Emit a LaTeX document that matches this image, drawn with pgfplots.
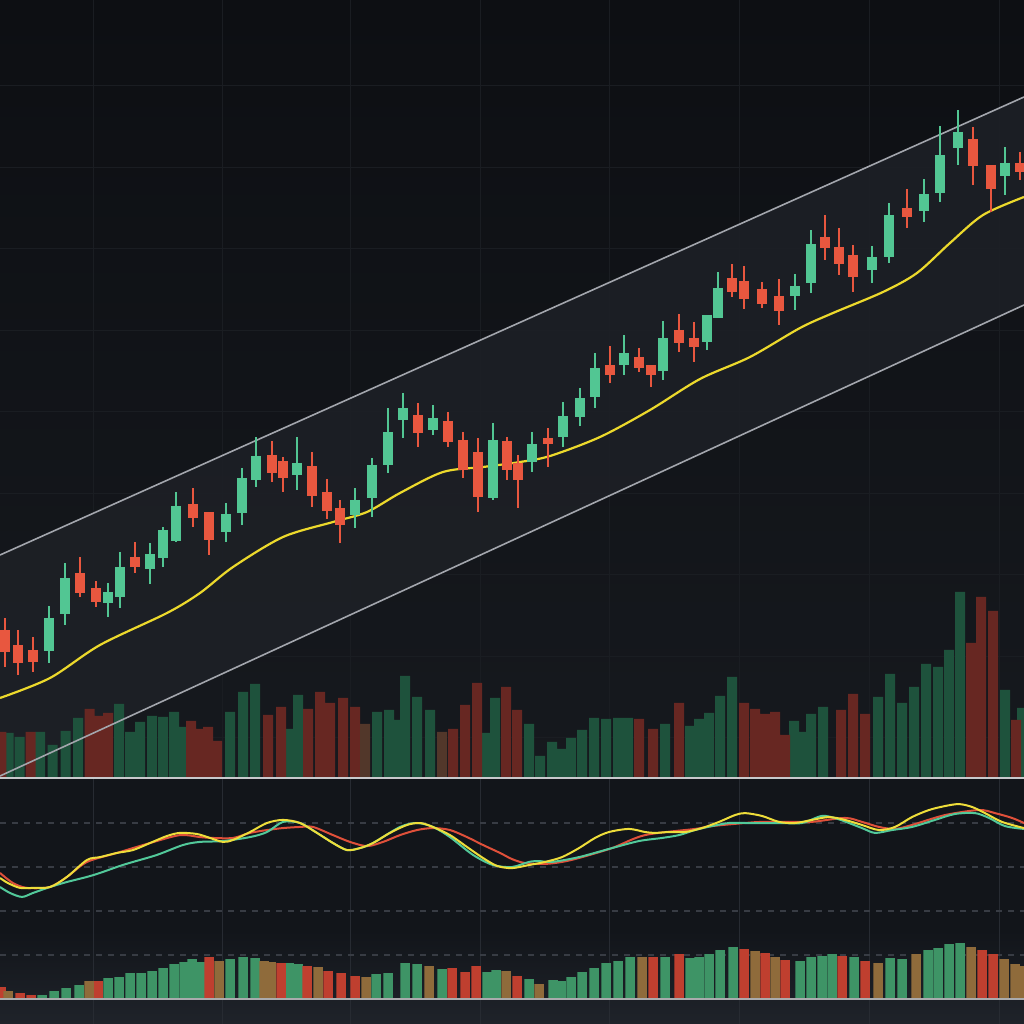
\documentclass[border=0pt]{standalone}
\usepackage{pgfplots}
\usepackage{pgfplotstable}
\pgfplotsset{compat=1.18}
\definecolor{bgtop}{HTML}{0D0F13}
\definecolor{bgmid}{HTML}{16191E}
\definecolor{lowbg}{HTML}{12151A}
\definecolor{botbg}{HTML}{1F232A}
\definecolor{chanfill}{HTML}{1D2026}
\definecolor{gridc}{HTML}{1A1D22}
\definecolor{gridlow}{HTML}{272B32}
\definecolor{chanline}{HTML}{A3A6AD}
\definecolor{mac}{HTML}{ECD92C}
\definecolor{cgreen}{HTML}{52C693}
\definecolor{cred}{HTML}{E8573F}
\definecolor{vgreen}{HTML}{1E523C}
\definecolor{vred}{HTML}{672722}
\definecolor{vbrown}{HTML}{52372A}
\definecolor{hgreen}{HTML}{3E9466}
\definecolor{hred}{HTML}{BF3F2F}
\definecolor{hbrown}{HTML}{8F6B3B}
\definecolor{oyellow}{HTML}{EEDD3A}
\definecolor{ogreen}{HTML}{52C99A}
\definecolor{ored}{HTML}{E0503A}
\definecolor{dashc}{HTML}{383C44}
\definecolor{sepc}{HTML}{C8C9CC}

% candles: x, body top, body bottom, high, low
\pgfplotstableread{
x t b h l
49 382 349 394 337
65 422 386 437 375
108 408 397 417 383
120 433 403 448 392
150 446 431 457 416
163 470 442 473 433
176 494 459 508 458
226 486 468 497 458
242 522 487 532 475
256 544 520 563 513
297 537 525 563 510
355 500 485 512 472
372 535 502 542 483
388 568 535 592 527
403 592 580 607 562
433 582 570 595 565
493 560 502 577 500
532 556 538 568 528
563 584 563 598 553
580 602 583 612 574
595 632 603 647 592
624 647 635 665 625
663 662 629 679 620
707 685 658 685 650
718 712 682 728 682
795 714 704 726 690
811 756 717 770 707
872 743 730 754 717
889 785 743 797 737
924 806 789 821 778
940 845 807 874 798
958 868 852 890 835
1005 837 824 853 805
}\greencandles
\pgfplotstableread{
x t b h l
5 370 348 382 333
18 355 337 370 325
33 350 338 363 328
80 427 407 443 403
96 412 398 419 393
135 443 433 458 427
193 496 482 512 473
209 488 460 488 445
272 545 527 559 518
283 539 522 543 508
312 534 504 548 493
327 508 489 521 481
340 492 475 500 457
418 585 567 597 553
448 579 558 588 553
463 560 530 568 522
478 548 503 562 488
507 559 530 563 520
518 537 520 545 492
548 562 556 572 533
610 635 625 654 617
639 643 632 652 628
651 635 625 635 613
679 670 657 686 648
694 662 653 678 638
732 722 708 736 703
744 719 701 734 691
762 711 696 718 692
779 704 689 721 675
825 763 752 785 740
839 753 736 772 725
853 745 723 755 708
907 792 783 811 772
973 861 834 873 815
991 835 811 835 788
1020 837 828 848 820
}\redcandles

\pgfplotstableread{
x v
8.5 45
19.5 41
40 46
52.5 33
65.5 47
78 60
119 74
130 46
140 56
152 62
163 61
174 66
184 51
230 66
243 86
255 94
290 49
298 83
377 66
389 68
396 58
405 102
417 81
430 68
486 45
495 80
529 54
540 22
552 36
561 29
571 40
582 48
594 60
606 59
618 60
628 60
665 54
690 52
699 59
709 65
720 82
732 101
794 57
801 46
811 64
823 71
878 81
890 104
902 75
914 91
926 114
938 111
949 128
960 186
1005 88
1022 70
}\volgreen
\pgfplotstableread{
x v
1.5 46
30.5 46
89.5 69
98 62
108 65
191 57
200 49
208 51
217 37
268 63
281 71
308 69
320 86
330 75
343 80
355 71
453 49
465 73
477 95
506 91
517 68
639 59
653 49
679 75
744 75
755 69
765 64
775 66
785 43
841 68
853 84
865 64
971 135
981 181
993 167
1016 58
}\volred
\pgfplotstableread{
x v
365 54
442 46
}\volbrown

\pgfplotstableread{
x v
42 4
54 8
66 11
79 14
108 21
119 22
130 26
141 26
152 28
163 31
174 35
184 37
192 40
200 37
230 40
243 42
255 41
289 36
298 35
376 25
388 26
405 36
417 35
442 30
487 27
496 29
529 20
553 19
561 18
571 22
582 27
594 31
606 36
618 38
630 42
665 42
690 41
699 42
709 45
720 49
733 52
800 38
811 42
822 43
832 45
854 42
890 41
902 40
928 49
938 51
949 55
960 56
}\histgreen
\pgfplotstableread{
x v
1 12
20 6
31 4
98 18
209 42
281 36
307 33
328 28
341 26
355 23
452 31
465 27
476 33
517 23
653 42
679 45
744 50
765 46
785 39
842 43
865 38
982 49
993 45
}\histred
\pgfplotstableread{
x v
8 8
89 18
219 38
264 38
271 37
318 32
366 22
429 33
506 28
539 15
642 42
755 48
775 42
878 36
916 45
971 52
1004 40
1015 35
1023 33
}\histbrown

\pgfplotsset{
  base/.style={scale only axis, width=512pt, xmin=0, xmax=1024,
    axis line style={draw=none}, tick style={draw=none},
    xtick=\empty, ytick=\empty, xticklabels={}, yticklabels={},
    major tick length=0pt, anchor=south west},
  body/.style={only marks, mark=*, mark size=0pt, mark options={draw=none, fill=none},
    error bars/.cd, y dir=minus, y explicit,
    error mark=none, error bar style={draw=#1, line width=5pt}},
  wick/.style={only marks, mark=*, mark size=0pt, mark options={draw=none, fill=none},
    error bars/.cd, y dir=minus, y explicit,
    error mark=none, error bar style={draw=#1, line width=0.9pt}},
}

\begin{document}
\begin{tikzpicture}
\shade[top color=bgtop, bottom color=bgmid] (0pt,123pt) rectangle (512pt,512pt);
\fill[lowbg] (0pt,0pt) rectangle (512pt,123pt);
\shade[top color=lowbg, bottom color=botbg] (0pt,0pt) rectangle (512pt,47pt);

% vertical grid, upper panel
\begin{axis}[base, at={(0pt,123pt)}, height=389pt, ymin=0, ymax=1,
  xtick={93,222,350,480,609,739,869,999}, xmajorgrids,
  grid style={gridc, line width=0.45pt}]
\end{axis}
% vertical grid, lower panels
\begin{axis}[base, at={(0pt,0pt)}, height=123pt, ymin=0, ymax=1,
  xtick={93,222,350,480,609,739,869,999}, xmajorgrids,
  grid style={gridlow, line width=0.5pt}]
\end{axis}

% price panel: grid and channel fill
\begin{axis}[base, at={(0pt,123pt)}, height=389pt, ymin=222, ymax=1000,
  ytick={263,344,426,507,589,670,752,833,915}, ymajorgrids,
  grid style={gridc, line width=0.45pt}]
\addplot[fill=chanfill, draw=none, fill opacity=0.9] coordinates {(0,445) (1024,903) (1024,695) (0,224) (0,445)};
\end{axis}

% volume bars
\begin{axis}[base, at={(0pt,123pt)}, height=389pt, ymin=0, ymax=778]
\addplot[ybar, bar width=10, bar shift=0pt, fill=vgreen, draw=none] table[x=x,y=v] \volgreen;
\addplot[ybar, bar width=10, bar shift=0pt, fill=vred, draw=none] table[x=x,y=v] \volred;
\addplot[ybar, bar width=10, bar shift=0pt, fill=vbrown, draw=none] table[x=x,y=v] \volbrown;
\end{axis}

% price panel: channel, moving average, candles
\begin{axis}[base, at={(0pt,123pt)}, height=389pt, ymin=222, ymax=1000]
\addplot[chanline, line width=0.8pt] coordinates {(0,445) (1024,903)};
\addplot[chanline, line width=0.8pt] coordinates {(0,224) (1024,695)};
\addplot[mac, line width=1.1pt, smooth] coordinates {
(0,302) (50,322) (100,355) (167,387) (200,407) (233,433) (283,463) (333,478)
(367,488) (400,507) (443,528) (483,533) (520,538) (550,544) (600,563) (650,590)
(700,621) (750,643) (800,672) (833,687) (883,708) (917,727) (950,757) (983,785) (1024,803)};
\addplot[wick=cgreen] table[x=x, y=h, y error expr=\thisrow{h}-\thisrow{l}] \greencandles;
\addplot[wick=cred] table[x=x, y=h, y error expr=\thisrow{h}-\thisrow{l}] \redcandles;
\addplot[body=cgreen] table[x=x, y=t, y error expr=\thisrow{t}-\thisrow{b}] \greencandles;
\addplot[body=cred] table[x=x, y=t, y error expr=\thisrow{t}-\thisrow{b}] \redcandles;
\end{axis}

% oscillator
\begin{axis}[base, at={(0pt,12.5pt)}, height=110pt, ymin=0, ymax=100,
  ytick={20,40,60,80}, ymajorgrids, grid style={dashc, dashed, line width=0.6pt}]
\addplot[ored, line width=1pt, smooth] coordinates {
(0,57.3) (13,52.7) (27,50.5) (50,50.9) (67,55.5) (87,62.3) (117,66.4) (150,70.9)
(180,74.5) (200,73.6) (213,73.2) (233,73.2) (250,75.5) (267,76.8) (283,77.7) (300,78.2)
(313,78.2) (333,74.5) (350,71.4) (367,69.5) (383,71.4) (400,74.5) (417,76.8) (433,77.7)
(450,76.8) (467,73.6) (483,70.0) (500,66.4) (512,63.6) (525,61.8) (545,61.4) (562,62.3)
(579,64.1) (612,68.6) (645,74.5) (695,77.3) (712,78.6) (745,80.0) (762,80.5) (795,80.5)
(812,80.5) (845,82.3) (862,80.5) (879,78.2) (895,77.3) (912,79.1) (945,83.6) (979,85.9)
(995,84.5) (1012,82.3) (1024,80.0)};
\addplot[ogreen, line width=1pt, smooth] coordinates {
(0,50.9) (10,48.2) (22,46.4) (33,48.2) (50,50.9) (67,53.2) (87,55.5) (100,57.3)
(120,60.5) (133,62.3) (157,65.5) (183,70.0) (200,71.4) (223,71.8) (250,73.6) (267,75.9)
(283,80.5) (300,80.0) (317,75.5) (333,70.9) (347,67.7) (360,68.6) (373,70.9) (400,78.2)
(417,80.0) (433,78.2) (450,73.6) (473,65.5) (493,60.9) (512,60.0) (529,62.3) (539,62.7)
(552,62.3) (579,64.5) (612,68.6) (639,71.8) (662,73.2) (679,74.5) (695,76.8) (712,78.6)
(729,80.0) (745,80.0) (779,80.0) (802,80.0) (822,83.2) (838,81.8) (862,77.7) (875,75.5)
(892,76.8) (912,78.2) (935,81.4) (955,84.1) (975,84.5) (989,82.3) (1005,78.6) (1024,77.3)};
\addplot[oyellow, line width=1pt, smooth] coordinates {
(0,55.0) (8,52.7) (20,50.5) (33,50.5) (50,50.9) (67,55.5) (87,63.2) (100,64.5)
(117,66.4) (133,67.7) (150,70.9) (167,74.1) (180,75.5) (197,75.0) (210,73.2) (223,71.4)
(233,72.3) (250,75.9) (267,80.0) (283,81.4) (300,80.0) (317,75.5) (333,70.9) (347,67.7)
(360,68.6) (373,70.9) (390,75.5) (407,79.1) (420,80.0) (433,78.2) (450,74.5) (467,69.1)
(483,64.1) (497,60.5) (512,59.5) (529,60.9) (545,62.3) (562,64.5) (579,68.6) (595,73.2)
(609,75.9) (629,77.3) (645,75.9) (655,75.5) (669,75.9) (685,75.9) (702,77.7) (719,80.5)
(735,83.6) (745,84.5) (762,83.2) (779,80.5) (795,80.0) (812,81.4) (829,82.7) (845,81.4)
(862,79.1) (879,76.8) (895,78.2) (912,82.7) (929,85.9) (945,87.7) (959,88.6) (972,87.3)
(985,84.5) (1002,80.5) (1024,77.7)};
\end{axis}

% lower histogram
\begin{axis}[base, at={(0pt,12.5pt)}, height=110pt, ymin=0, ymax=220]
\addplot[ybar, bar width=9.5, bar shift=0pt, fill=hgreen, draw=none] table[x=x,y=v] \histgreen;
\addplot[ybar, bar width=9.5, bar shift=0pt, fill=hred, draw=none] table[x=x,y=v] \histred;
\addplot[ybar, bar width=9.5, bar shift=0pt, fill=hbrown, draw=none] table[x=x,y=v] \histbrown;
\end{axis}

\draw[sepc, line width=1pt] (0pt,123pt) -- (512pt,123pt);
\draw[sepc!85!black, line width=0.8pt] (0pt,12.5pt) -- (512pt,12.5pt);
\pgfresetboundingbox
\path[use as bounding box] (0pt,0pt) rectangle (512pt,512pt);
\end{tikzpicture}
\end{document}
